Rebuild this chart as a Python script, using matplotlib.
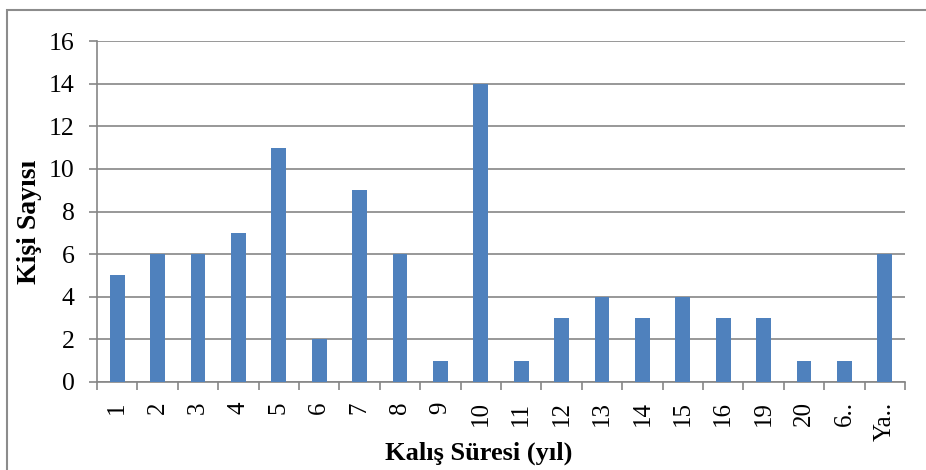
import matplotlib.pyplot as plt
import numpy as np
from matplotlib.patches import Rectangle

# Veriler
kategoriler = ['1', '2', '3', '4', '5', '6', '7', '8', '9', '10',
               '11', '12', '13', '14', '15', '16', '19', '20', '6..', 'Ya..']
kisi_sayisi = [5, 6, 6, 7, 11, 2, 9, 6, 1, 14, 1, 3, 4, 3, 4, 3, 3, 1, 1, 6]

plt.rcParams['font.family'] = 'Liberation Serif'

W, H = 926, 470
fig = plt.figure(figsize=(W / 100, H / 100), dpi=100)
ax = fig.add_axes([97 / W, 1 - 382 / H, (905 - 97) / W, (382 - 41) / H])

# Dış çerçeve (sağ ve alt kenar resmin dışında)
fig.patches.append(Rectangle((7 / W, -0.1), 1.2, 1 - 10 / H + 0.1,
                             transform=fig.transFigure, fill=False,
                             edgecolor='#8c8c8c', linewidth=1.5))

x = np.arange(len(kategoriler))
ax.bar(x, kisi_sayisi, width=0.37, color='#4f81bd', zorder=3)

ax.set_xlim(-0.5, len(kategoriler) - 0.5)
ax.set_ylim(0, 16)
ax.set_yticks(np.arange(0, 17, 2))
ax.grid(axis='y', color='#868686', linewidth=1.2, zorder=0)

# Kategori sınırlarında dış tikler
ax.set_xticks(np.arange(-0.5, len(kategoriler), 1))
ax.set_xticklabels([])
ax.set_xticks(x, minor=True)
ax.set_xticklabels(kategoriler, minor=True, rotation=90, fontsize=18)
ax.tick_params(axis='x', which='minor', length=0, pad=14)
ax.tick_params(axis='x', which='major', length=6, color='#868686', width=1.2)
ax.tick_params(axis='y', length=6, color='#868686', width=1.2, labelsize=18.5, pad=10)

for s in ['top', 'right']:
    ax.spines[s].set_visible(False)
for s in ['left', 'bottom']:
    ax.spines[s].set_color('#868686')
    ax.spines[s].set_linewidth(1.2)

# Eksen başlıkları
fig.text(30 / W, 1 - 222 / H, 'Kişi Sayısı', rotation=90, fontsize=20,
         fontweight='bold', ha='center', va='center')
fig.text(479 / W, 1 - 453 / H, 'Kalış Süresi (yıl)', fontsize=19,
         fontweight='bold', ha='center', va='center')

plt.savefig('out.png', dpi=100)
